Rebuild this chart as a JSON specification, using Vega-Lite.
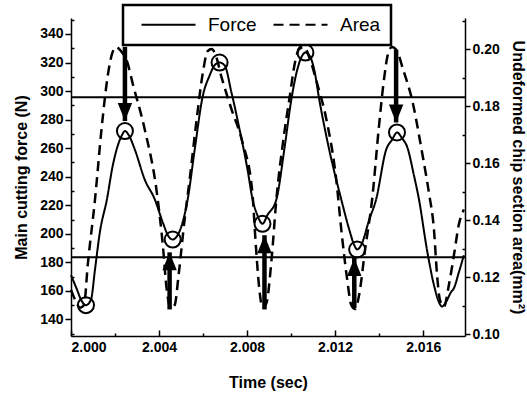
{
  "$schema": "https://vega.github.io/schema/vega-lite/v6.json",
  "width": 394,
  "height": 318,
  "autosize": {"type": "none"},
  "padding": {"left": 71, "top": 18, "right": 62, "bottom": 62},
  "background": "white",
  "datasets": {
    "force": [
      {"t": 2.00000, "v": 171}, {"t": 2.00027, "v": 161}, {"t": 2.00045, "v": 154}, {"t": 2.00068, "v": 150},
      {"t": 2.00091, "v": 154}, {"t": 2.00109, "v": 175}, {"t": 2.00131, "v": 201}, {"t": 2.00163, "v": 224},
      {"t": 2.00190, "v": 248}, {"t": 2.00213, "v": 262}, {"t": 2.00231, "v": 269}, {"t": 2.00245, "v": 272},
      {"t": 2.00263, "v": 269}, {"t": 2.00290, "v": 259}, {"t": 2.00335, "v": 238}, {"t": 2.00381, "v": 224},
      {"t": 2.00417, "v": 208}, {"t": 2.00444, "v": 198}, {"t": 2.00462, "v": 196}, {"t": 2.00480, "v": 198},
      {"t": 2.00507, "v": 208}, {"t": 2.00530, "v": 224}, {"t": 2.00562, "v": 259}, {"t": 2.00598, "v": 296},
      {"t": 2.00630, "v": 311}, {"t": 2.00652, "v": 318}, {"t": 2.00675, "v": 320}, {"t": 2.00698, "v": 318},
      {"t": 2.00729, "v": 299}, {"t": 2.00766, "v": 273}, {"t": 2.00802, "v": 245}, {"t": 2.00825, "v": 224},
      {"t": 2.00847, "v": 213}, {"t": 2.00870, "v": 207}, {"t": 2.00892, "v": 213}, {"t": 2.00933, "v": 224},
      {"t": 2.00969, "v": 259}, {"t": 2.01001, "v": 294}, {"t": 2.01028, "v": 315}, {"t": 2.01051, "v": 325},
      {"t": 2.01065, "v": 327}, {"t": 2.01083, "v": 325}, {"t": 2.01105, "v": 315}, {"t": 2.01128, "v": 294},
      {"t": 2.01173, "v": 259}, {"t": 2.01228, "v": 224}, {"t": 2.01264, "v": 203}, {"t": 2.01287, "v": 192},
      {"t": 2.01300, "v": 189}, {"t": 2.01318, "v": 192}, {"t": 2.01355, "v": 210}, {"t": 2.01386, "v": 224},
      {"t": 2.01432, "v": 259}, {"t": 2.01459, "v": 266}, {"t": 2.01481, "v": 271}, {"t": 2.01504, "v": 267},
      {"t": 2.01527, "v": 261}, {"t": 2.01558, "v": 241}, {"t": 2.01581, "v": 224}, {"t": 2.01617, "v": 189},
      {"t": 2.01649, "v": 164}, {"t": 2.01672, "v": 152}, {"t": 2.01685, "v": 149}, {"t": 2.01703, "v": 152},
      {"t": 2.01726, "v": 159}, {"t": 2.01740, "v": 162}, {"t": 2.01762, "v": 173}, {"t": 2.01785, "v": 185}
    ],
    "area": [
      {"t": 2.00000, "a": 0.1155}, {"t": 2.00023, "a": 0.1113}, {"t": 2.00041, "a": 0.1092}, {"t": 2.00059, "a": 0.1102},
      {"t": 2.00077, "a": 0.1250}, {"t": 2.00109, "a": 0.1472}, {"t": 2.00140, "a": 0.1729}, {"t": 2.00168, "a": 0.1912},
      {"t": 2.00186, "a": 0.1982}, {"t": 2.00204, "a": 0.2007}, {"t": 2.00227, "a": 0.1993}, {"t": 2.00254, "a": 0.1958},
      {"t": 2.00281, "a": 0.1877}, {"t": 2.00335, "a": 0.1718}, {"t": 2.00390, "a": 0.1496}, {"t": 2.00417, "a": 0.1313},
      {"t": 2.00435, "a": 0.1155}, {"t": 2.00453, "a": 0.1092}, {"t": 2.00471, "a": 0.1102}, {"t": 2.00489, "a": 0.1208},
      {"t": 2.00516, "a": 0.1401}, {"t": 2.00539, "a": 0.1542}, {"t": 2.00571, "a": 0.1754}, {"t": 2.00598, "a": 0.1912},
      {"t": 2.00621, "a": 0.1993}, {"t": 2.00639, "a": 0.2000}, {"t": 2.00657, "a": 0.1979}, {"t": 2.00684, "a": 0.1901},
      {"t": 2.00729, "a": 0.1789}, {"t": 2.00779, "a": 0.1673}, {"t": 2.00824, "a": 0.1496}, {"t": 2.00838, "a": 0.1331},
      {"t": 2.00856, "a": 0.1155}, {"t": 2.00870, "a": 0.1092}, {"t": 2.00888, "a": 0.1109}, {"t": 2.00911, "a": 0.1261},
      {"t": 2.00933, "a": 0.1472}, {"t": 2.00965, "a": 0.1683}, {"t": 2.00992, "a": 0.1824}, {"t": 2.01019, "a": 0.1958},
      {"t": 2.01037, "a": 0.2000}, {"t": 2.01060, "a": 0.2007}, {"t": 2.01082, "a": 0.1972}, {"t": 2.01119, "a": 0.1877},
      {"t": 2.01160, "a": 0.1754}, {"t": 2.01205, "a": 0.1542}, {"t": 2.01228, "a": 0.1366}, {"t": 2.01255, "a": 0.1190},
      {"t": 2.01273, "a": 0.1102}, {"t": 2.01291, "a": 0.1088}, {"t": 2.01309, "a": 0.1137}, {"t": 2.01336, "a": 0.1296},
      {"t": 2.01368, "a": 0.1472}, {"t": 2.01400, "a": 0.1736}, {"t": 2.01422, "a": 0.1894}, {"t": 2.01440, "a": 0.1982},
      {"t": 2.01458, "a": 0.2007}, {"t": 2.01481, "a": 0.1993}, {"t": 2.01508, "a": 0.1930}, {"t": 2.01549, "a": 0.1824},
      {"t": 2.01595, "a": 0.1637}, {"t": 2.01626, "a": 0.1496}, {"t": 2.01649, "a": 0.1366}, {"t": 2.01663, "a": 0.1208},
      {"t": 2.01676, "a": 0.1120}, {"t": 2.01694, "a": 0.1095}, {"t": 2.01717, "a": 0.1173}, {"t": 2.01740, "a": 0.1278},
      {"t": 2.01762, "a": 0.1384}, {"t": 2.01785, "a": 0.1437}
    ],
    "marked": [
      {"t": 2.00068, "v": 150}, {"t": 2.00245, "v": 272}, {"t": 2.00462, "v": 196}, {"t": 2.00675, "v": 320},
      {"t": 2.00870, "v": 207}, {"t": 2.01065, "v": 327}, {"t": 2.01300, "v": 189}, {"t": 2.01481, "v": 271}
    ],
    "levels": [{"v": 295.7}, {"v": 183.5}],
    "arrows": [
      {"t": 2.00245, "from": 331, "to": 279, "dir": "down"},
      {"t": 2.01477, "from": 329, "to": 278, "dir": "down"},
      {"t": 2.00448, "from": 147, "to": 187, "dir": "up"},
      {"t": 2.00879, "from": 147, "to": 199, "dir": "up"},
      {"t": 2.01287, "from": 148, "to": 183, "dir": "up"}
    ]
  },
  "layer": [
    {
      "data": {"name": "force"},
      "transform": [{"calculate": "'Force'", "as": "series"}],
      "mark": {"type": "line", "color": "black", "strokeWidth": 2, "interpolate": "monotone"},
      "encoding": {
        "x": {
          "field": "t", "type": "quantitative",
          "scale": {"domain": [2.0, 2.0179], "nice": false, "zero": false},
          "axis": {
            "title": "Time (sec)",
            "orient": "bottom",
            "values": [2.000, 2.002, 2.004, 2.006, 2.008, 2.010, 2.012, 2.014, 2.016],
            "format": ".3f",
            "labelExpr": "round((datum.value - 2) * 1000) % 4 === 0 ? datum.label : ''",
            "tickSize": {"condition": {"test": "round((datum.value - 2) * 1000) % 4 === 0", "value": -6}, "value": -3},
            "labelPadding": 10,
            "titlePadding": 20
          }
        },
        "y": {
          "field": "v", "type": "quantitative",
          "scale": {"domain": [128.4, 351.2], "nice": false, "zero": false},
          "axis": {
            "title": "Main cutting force (N)",
            "orient": "left",
            "values": [130, 140, 150, 160, 170, 180, 190, 200, 210, 220, 230, 240, 250, 260, 270, 280, 290, 300, 310, 320, 330, 340, 350],
            "labelExpr": "datum.value % 20 === 0 ? datum.label : ''",
            "tickSize": {"condition": {"test": "datum.value % 20 === 0", "value": 6}, "value": -3},
            "labelPadding": 2,
            "titlePadding": 10
          }
        },
        "strokeDash": {
          "field": "series", "type": "nominal",
          "scale": {"domain": ["Force", "Area"], "range": [[1, 0], [10, 6]]},
          "legend": {
            "title": null,
            "orient": "none",
            "legendX": 52,
            "legendY": -13,
            "direction": "horizontal"
          }
        }
      }
    },
    {
      "data": {"name": "area"},
      "transform": [{"calculate": "'Area'", "as": "series"}],
      "mark": {"type": "line", "color": "black", "strokeWidth": 2.5, "interpolate": "monotone"},
      "encoding": {
        "x": {"field": "t", "type": "quantitative"},
        "y": {
          "field": "a", "type": "quantitative",
          "scale": {"domain": [0.0993, 0.2109], "nice": false, "zero": false},
          "axis": {
            "title": "Undeformed chip section area(mm²)",
            "orient": "right",
            "values": [0.10, 0.11, 0.12, 0.13, 0.14, 0.15, 0.16, 0.17, 0.18, 0.19, 0.20, 0.21],
            "format": ".2f",
            "labelExpr": "round(datum.value * 100) % 2 === 0 ? datum.label : ''",
            "tickSize": {"condition": {"test": "round(datum.value * 100) % 2 === 0", "value": 5}, "value": -3},
            "labelPadding": 2,
            "titlePadding": 10,
            "titleFontSize": 16
          }
        },
        "strokeDash": {"field": "series", "type": "nominal"}
      }
    },
    {
      "data": {"name": "levels"},
      "mark": {"type": "rule", "color": "black", "strokeWidth": 2},
      "encoding": {
        "y": {"field": "v", "type": "quantitative", "scale": {"domain": [128.4, 351.2], "nice": false, "zero": false}, "axis": null}
      }
    },
    {
      "data": {"name": "marked"},
      "mark": {"type": "point", "shape": "circle", "filled": false, "color": "black", "strokeWidth": 2, "size": 256, "opacity": 1},
      "encoding": {
        "x": {"field": "t", "type": "quantitative"},
        "y": {"field": "v", "type": "quantitative", "scale": {"domain": [128.4, 351.2], "nice": false, "zero": false}, "axis": null}
      }
    },
    {
      "data": {"name": "arrows"},
      "mark": {"type": "rule", "color": "black", "strokeWidth": 4.5},
      "encoding": {
        "x": {"field": "t", "type": "quantitative"},
        "y": {"field": "from", "type": "quantitative", "scale": {"domain": [128.4, 351.2], "nice": false, "zero": false}, "axis": null},
        "y2": {"field": "to"}
      }
    },
    {
      "data": {"name": "arrows"},
      "transform": [{"filter": "datum.dir === 'down'"}],
      "mark": {"type": "point", "shape": "M -0.8 -1 L 0.8 -1 L 0 1 Z", "filled": true, "color": "black", "size": 324, "opacity": 1, "yOffset": -9},
      "encoding": {
        "x": {"field": "t", "type": "quantitative"},
        "y": {"field": "to", "type": "quantitative", "scale": {"domain": [128.4, 351.2], "nice": false, "zero": false}, "axis": null}
      }
    },
    {
      "data": {"name": "arrows"},
      "transform": [{"filter": "datum.dir === 'up'"}],
      "mark": {"type": "point", "shape": "M -0.8 1 L 0.8 1 L 0 -1 Z", "filled": true, "color": "black", "size": 324, "opacity": 1, "yOffset": 9},
      "encoding": {
        "x": {"field": "t", "type": "quantitative"},
        "y": {"field": "to", "type": "quantitative", "scale": {"domain": [128.4, 351.2], "nice": false, "zero": false}, "axis": null}
      }
    }
  ],
  "resolve": {"scale": {"y": "independent"}},
  "config": {
    "view": {"stroke": null},
    "axis": {
      "grid": false,
      "domainColor": "black",
      "domainWidth": 1.5,
      "tickColor": "black",
      "tickWidth": 1.5,
      "labelColor": "black",
      "titleColor": "black",
      "labelFont": "Liberation Sans",
      "titleFont": "Liberation Sans",
      "labelFontWeight": "bold",
      "titleFontWeight": "bold",
      "labelFontSize": 14,
      "titleFontSize": 16
    },
    "legend": {
      "strokeColor": "black",
      "strokeWidth": 2.5,
      "fillColor": "white",
      "padding": 10,
      "symbolType": "M -6 0 L 6 0",
      "symbolSize": 81,
      "symbolStrokeWidth": 2,
      "symbolStrokeColor": "black",
      "labelFont": "Liberation Sans",
      "labelFontSize": 19,
      "labelColor": "black",
      "labelOffset": 30,
      "symbolOffset": 26,
      "columnPadding": 8
    }
  }
}
